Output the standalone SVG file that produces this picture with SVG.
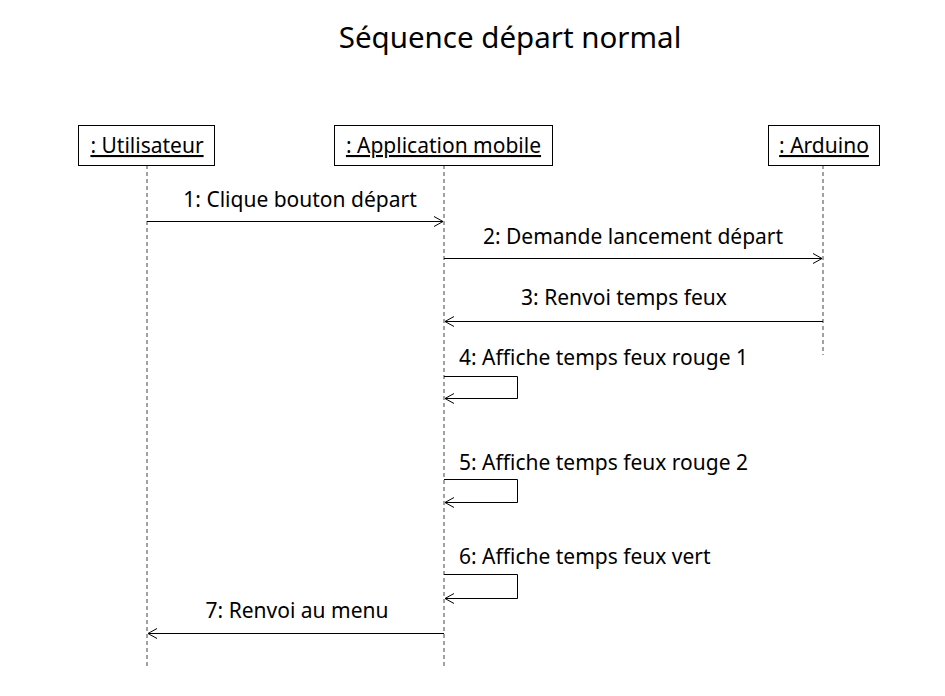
<svg xmlns="http://www.w3.org/2000/svg" width="945" height="696" viewBox="0 0 945 696">
<style>
text{font-family:"Noto Sans","Open Sans","DejaVu Sans",sans-serif;fill:#000}
.t{font-size:21px}
.box{fill:#fff;stroke:#000;stroke-width:1}
.life{stroke:#444;stroke-width:1;stroke-dasharray:4,3}
.msg{fill:none;stroke:#000;stroke-width:1}
</style>
<defs>
<marker id="open" markerWidth="12" markerHeight="12" refX="10" refY="6" orient="auto" markerUnits="userSpaceOnUse">
<path d="M1,1 L10,6 L1,11" fill="none" stroke="#000" stroke-width="1"/>
</marker>
</defs>
<rect width="945" height="696" fill="#fff"/>
<text x="510" y="48" font-size="29.500" text-anchor="middle">Séquence départ normal</text>
<g id="lifelines">
<line class="life" x1="147" y1="165" x2="147" y2="668"/>
<line class="life" x1="444" y1="165" x2="444" y2="668"/>
<line class="life" x1="823" y1="165" x2="823" y2="355"/>
</g>
<g id="utilisateur">
<rect class="box" x="78.500" y="125.500" width="136" height="40"/>
<text class="t" x="147" y="153" text-anchor="middle" text-decoration="underline">: Utilisateur</text>
</g>
<g id="application">
<rect class="box" x="334.500" y="125.500" width="218" height="40"/>
<text class="t" x="443.500" y="153" text-anchor="middle" text-decoration="underline">: Application mobile</text>
</g>
<g id="arduino">
<rect class="box" x="768.500" y="125.500" width="111" height="40"/>
<text class="t" x="824" y="153" text-anchor="middle" text-decoration="underline">: Arduino</text>
</g>
<g id="connectors">
<line class="msg" x1="147" y1="221.500" x2="443" y2="221.500" marker-end="url(#open)"/>
<line class="msg" x1="444" y1="258.500" x2="822" y2="258.500" marker-end="url(#open)"/>
<line class="msg" x1="823" y1="321.500" x2="445" y2="321.500" marker-end="url(#open)"/>
<path class="msg" d="M444,376.500 H517.500 V398.500 H445" marker-end="url(#open)"/>
<path class="msg" d="M444,479.500 H517.500 V502.500 H445" marker-end="url(#open)"/>
<path class="msg" d="M444,574.500 H517.500 V598.500 H445" marker-end="url(#open)"/>
<line class="msg" x1="444" y1="633.500" x2="148" y2="633.500" marker-end="url(#open)"/>
</g>
<g id="labels">
<text class="t" x="300" y="207" text-anchor="middle">1: Clique bouton départ</text>
<text class="t" x="633" y="244" text-anchor="middle">2: Demande lancement départ</text>
<text class="t" x="624" y="305" text-anchor="middle">3: Renvoi temps feux</text>
<text class="t" x="459" y="365">4: Affiche temps feux rouge 1</text>
<text class="t" x="459" y="470">5: Affiche temps feux rouge 2</text>
<text class="t" x="459" y="564">6: Affiche temps feux vert</text>
<text class="t" x="297" y="618" text-anchor="middle">7: Renvoi au menu</text>
</g>
</svg>
